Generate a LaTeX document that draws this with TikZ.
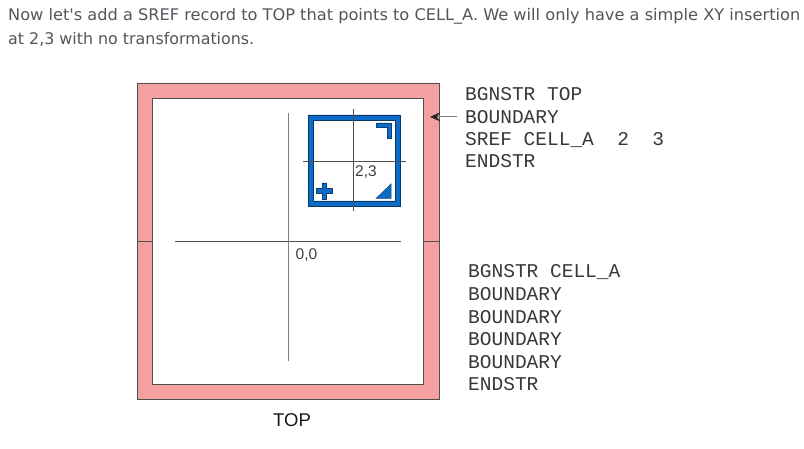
\documentclass[tikz,border=0pt]{standalone}
\usepackage{fontspec}
\setmainfont{Liberation Sans}
\newfontfamily\monof{Liberation Mono}
\newfontfamily\headf{DejaVu Sans}
\usetikzlibrary{arrows.meta}
\definecolor{bandpink}{RGB}{245,160,160}
\definecolor{celblue}{RGB}{12,108,200}
\definecolor{headgray}{RGB}{82,86,92}
\definecolor{linegray}{RGB}{80,80,80}
\begin{document}
\begin{tikzpicture}[x=1pt,y=-1pt,
  mono/.style={anchor=base west, inner sep=0pt, font=\monof\fontsize{19.5}{22}\selectfont, text=black!78},
  head/.style={anchor=base west, inner sep=0pt, text=headgray},
  coordlbl/.style={anchor=base west, inner sep=0pt, font=\fontsize{15.5}{18}\selectfont, text=black!75},
  axis/.style={draw=linegray, line width=0.8pt},
  cellmark/.style={fill=celblue, draw=celblue!60!black, line width=0.5pt},
  ptr/.style={draw=gray, line width=0.8pt, -{Stealth[length=10pt,width=9pt,color=black!85]}}
]
\useasboundingbox (0,0) rectangle (804,449);
\fill[white] (0,0) rectangle (804,449);

% header
\node[head] (h1) at (8,21) {\resizebox{792pt}{\height}{\headf\fontsize{16}{19}\selectfont Now let's add a SREF record to TOP that points to CELL\_A. We will only have a simple XY insertion}};
\node[head] (h2) at (8,44.5) {\resizebox{246pt}{\height}{\headf\fontsize{16}{19}\selectfont at 2,3 with no transformations.}};

% TOP boundary (pink band)
\fill[bandpink, even odd rule] (137,83) rectangle (439,399) (152,98) rectangle (423,384);
\draw[linegray, line width=0.8pt] (137,83) rectangle (439,399);
\draw[linegray, line width=0.8pt] (152,98) rectangle (423,384);
\draw[linegray, line width=0.8pt] (137,241) -- (152,241);
\draw[linegray, line width=0.8pt] (423,241) -- (439,241);

% TOP origin axes
\draw[axis] (175,241) -- (401,241);
\draw[axis, draw=gray] (288,113) -- (288,361);
\node[coordlbl] (o00) at (295.5,260) {0,0};

% CELL_A instance
\fill[celblue, even odd rule] (308,115) rectangle (400,206) (313,120) rectangle (395,201);
\draw[celblue!50!black, line width=0.5pt] (308,115) rectangle (400,206);
\draw[celblue!50!black, line width=0.5pt] (313,120) rectangle (395,201);
\draw[cellmark] (376,123) -- (391,123) -- (391,138) -- (387,138) -- (387,127.5) -- (376,127.5) -- cycle;
\draw[cellmark] (322,183) -- (326.5,183) -- (326.5,188.5) -- (332.5,188.5) -- (332.5,193) -- (326.5,193) -- (326.5,199) -- (322,199) -- (322,193) -- (316,193) -- (316,188.5) -- (322,188.5) -- cycle;
\draw[cellmark] (376,198.5) -- (391,198.5) -- (391,184) -- cycle;
\draw[linegray, line width=0.6pt] (303,161.7) -- (406,161.7);
\draw[linegray, line width=0.6pt] (353,109) -- (353,211);
\node[coordlbl] (o23) at (355,177) {2,3};

\node[anchor=base, inner sep=0pt, font=\fontsize{18.5}{22}\selectfont, text=black!90] (toplbl) at (292,426) {TOP};

% GDS records of TOP
\node[mono] (t1) at (465,101) {BGNSTR TOP};
\node[mono] (t2) at (465,123.3) {BOUNDARY};
\node[mono] (t3) at (465,145.6) {SREF CELL\_A\ \ 2\ \ 3};
\node[mono] (t4) at (465,168) {ENDSTR};

% GDS records of CELL_A
\node[mono] (c1) at (468,278) {BGNSTR CELL\_A};
\node[mono] (c2) at (468,300.6) {BOUNDARY};
\node[mono] (c3) at (468,323.1) {BOUNDARY};
\node[mono] (c4) at (468,345.6) {BOUNDARY};
\node[mono] (c5) at (468,368.1) {BOUNDARY};
\node[mono] (c6) at (468,390.6) {ENDSTR};

\coordinate (bedge) at (430,117);
\draw[ptr] ([xshift=-8pt]t2.west) -- (bedge |- t2.west);
\end{tikzpicture}
\end{document}
